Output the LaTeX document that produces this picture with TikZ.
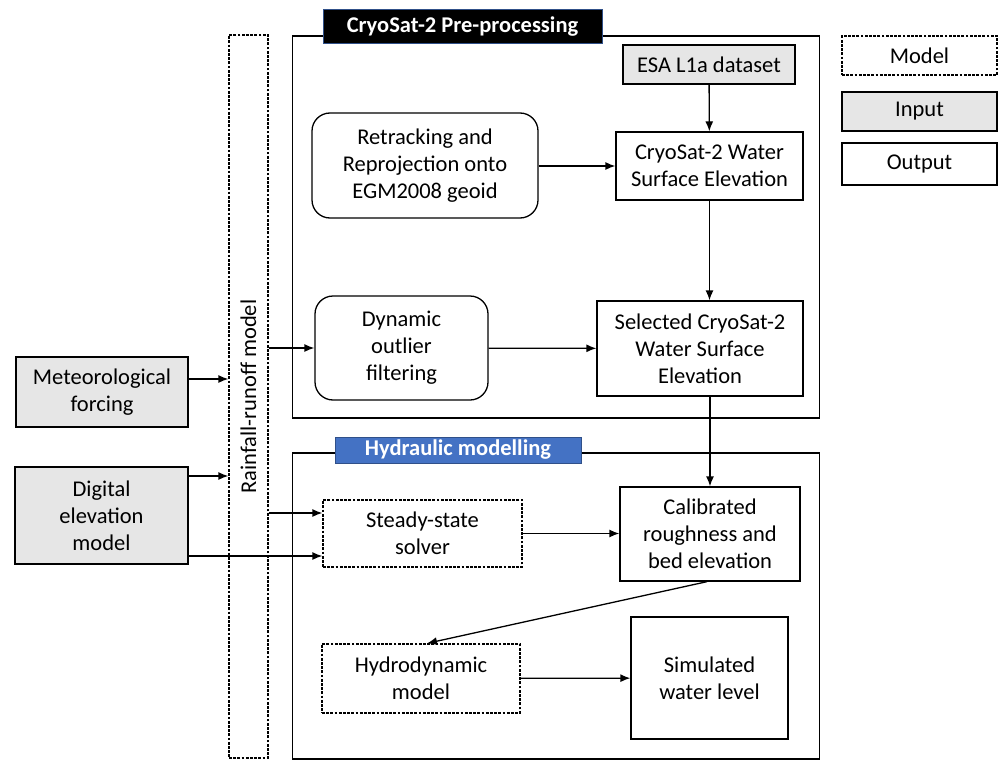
\documentclass[tikz,border=0pt]{standalone}
\usepackage{fontspec}
\setmainfont{Carlito}
\usetikzlibrary{arrows.meta}
\definecolor{inputgray}{RGB}{230,230,230}
\definecolor{hydblue}{RGB}{68,114,196}
\tikzset{
	box/.style={draw, line width=1.3pt, inner sep=0pt, align=center, font=\fontsize{22.5}{27}\selectfont},
	model/.style={box, dash pattern=on 2.8pt off 1.4pt},
	input/.style={box, fill=inputgray},
	output/.style={box},
	proc/.style={box, rounded corners=18pt},
	frame/.style={draw, line width=1.3pt, inner sep=0pt},
	banner/.style={draw=hydblue!70!black, line width=1pt, inner sep=0pt, text=white, font=\fontsize{22.5}{26}\selectfont\bfseries}
}

\begin{document}
\begin{tikzpicture}[x=1pt, y=-1pt, >={Latex[length=10pt,width=8pt]}, line width=1.3pt]
	\useasboundingbox (0,0) rectangle (1001,760);
	% frames
	\node [frame, minimum width=527, minimum height=382] (pre) at (556,227) {};
	\node [frame, minimum width=527, minimum height=306] (hyd) at (556,606) {};
	\node [banner, fill=black, minimum width=279, minimum height=34] (pret) at (462.5,27) {CryoSat-2 Pre-processing};
	\node [banner, fill=hydblue, minimum width=246, minimum height=26] (hydt) at (458,450) {Hydraulic modelling};
	% rainfall-runoff
	\node [model, minimum width=39, minimum height=723] (rr) at (248.5,396.5) {};
	\node [rotate=90, font=\fontsize{22.5}{27}\selectfont] (rrl) at (rr.center) {Rainfall-runoff model};
	% inputs
	\node [input, minimum width=172, minimum height=70] (met) at (102,392) {Meteorological\\forcing};
	\node [input, minimum width=173, minimum height=97] (dem) at (101.5,515.5) {Digital\\elevation\\model};
	\node [input, minimum width=172, minimum height=39] (esa) at (709,64.5) {ESA L1a dataset};
	% pre-processing
	\node [proc, minimum width=226, minimum height=105] (retr) at (425,165.5) {Retracking and\\Reprojection onto\\EGM2008 geoid};
	\node [output, minimum width=187, minimum height=68] (wse) at (709.5,166) {CryoSat-2 Water\\Surface Elevation};
	\node [proc, minimum width=173, minimum height=104] (dyn) at (401.5,348) {Dynamic\\outlier\\filtering};
	\node [output, minimum width=206, minimum height=95] (sel) at (700,348.5) {Selected CryoSat-2\\Water Surface\\Elevation};
	% hydraulic modelling
	\node [model, minimum width=199, minimum height=67] (ss) at (422.5,533.5) {Steady-state\\solver};
	\node [output, minimum width=180, minimum height=94] (cal) at (710,534) {Calibrated\\roughness and\\bed elevation};
	\node [model, minimum width=198, minimum height=69] (hdm) at (421,678.5) {Hydrodynamic\\model};
	\node [output, minimum width=157, minimum height=122] (sim) at (709.5,678) {Simulated\\water level};
	% legend
	\node [model, minimum width=155, minimum height=39] (lmod) at (919.5,55.5) {Model};
	\node [input, minimum width=155, minimum height=39] (linp) at (919.5,111.5) {Input};
	\node [output, minimum width=155, minimum height=42] (lout) at (919.5,164) {Output};
	% connectors
	\draw [->] (esa) to (wse);
	\draw [->] (retr.east |- wse.west) to (wse.west);
	\draw [->] (wse.south) to (wse.south |- sel.north);
	\draw [->] (dyn) to (sel);
	\draw [->] (rr.east |- dyn.west) to (dyn.west);
	\draw [->] (met.east |- 0,379) to (rr.west |- 0,379);
	\draw [->] (dem.east |- 0,476) to (rr.west |- 0,476);
	\draw [->] (rr.east |- 0,513) to (ss.west |- 0,513);
	\draw [->] (dem.east |- 0,556) to (ss.west |- 0,556);
	\draw [->] (cal.north |- sel.south) to (cal.north);
	\draw [->] (ss) to (cal.west |- ss.east);
	\draw [->] ([xshift=-3pt]cal.south) to ([xshift=6pt]hdm.north);
	\draw [->] (hdm) to (sim);
\end{tikzpicture}
\end{document}
